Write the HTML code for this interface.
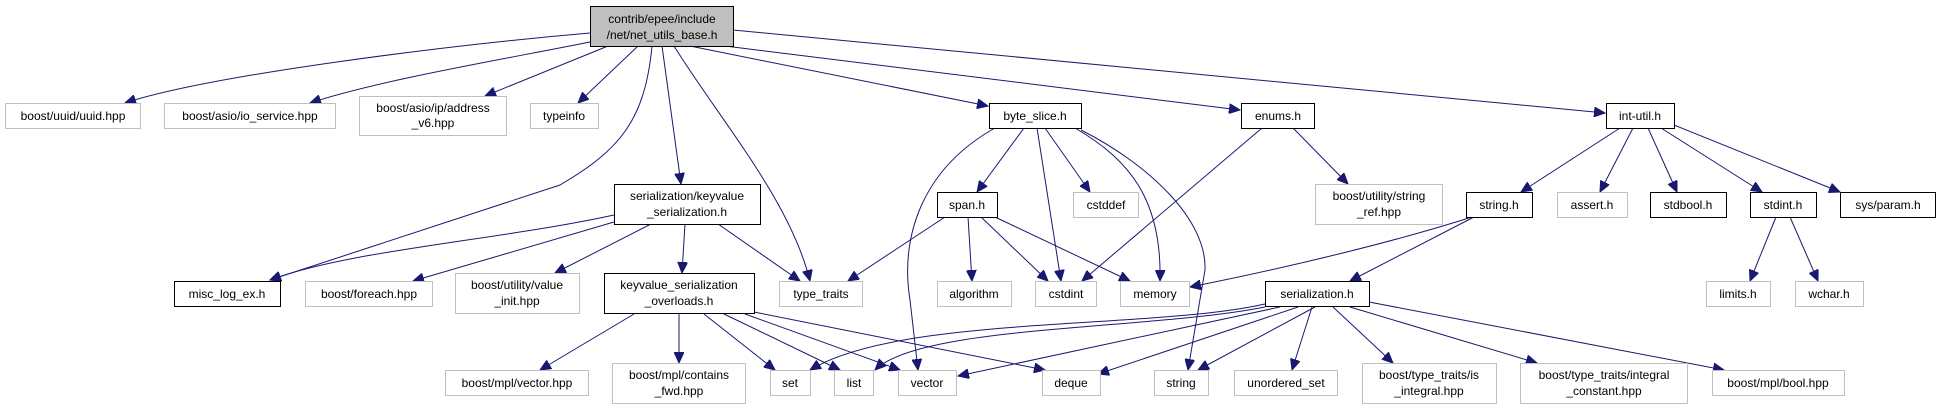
<!DOCTYPE html>
<html><head><meta charset="utf-8"><style>
html,body{margin:0;padding:0;background:#fff;}
svg{display:block;}
text{font-family:"Liberation Sans",sans-serif;font-size:12px;fill:#000;text-anchor:middle;}
.b{fill:#fff;stroke:#000;stroke-width:1;}
.g{fill:#fff;stroke:#bfbfbf;stroke-width:1;}
.e{fill:none;stroke:#191970;stroke-width:1;marker-end:url(#a);}
</style></head><body>
<svg width="1937" height="409" viewBox="0 0 1937 409">
<defs><marker id="a" markerUnits="userSpaceOnUse" markerWidth="12" markerHeight="10" refX="11" refY="5" orient="auto"><path d="M0,0 L11,5 L0,10 z" fill="#191970" stroke="#191970"/></marker></defs>
<!-- edges -->
<path class="e" d="M590,33 C450,45 210,75 125,103"/>
<path class="e" d="M590,42 C500,60 380,80 310,103"/>
<path class="e" d="M608,46 L485,96"/>
<path class="e" d="M638,46 L578,103"/>
<path class="e" d="M652,46 C645,120 620,150 560,185 L270,280"/>
<path class="e" d="M662,46 L681,184"/>
<path class="e" d="M674,46 C720,120 790,200 810,281"/>
<path class="e" d="M690,46 L988,106"/>
<path class="e" d="M725,46 L1240,110"/>
<path class="e" d="M733,30 L1605,113"/>
<path class="e" d="M1024,128 L977,192"/>
<path class="e" d="M995,128 C920,170 900,240 910,300 L918,370"/>
<path class="e" d="M1037,128 L1061,281"/>
<path class="e" d="M1045,128 L1090,192"/>
<path class="e" d="M1075,128 C1130,160 1162,200 1160,281"/>
<path class="e" d="M1081,130 C1150,165 1207,220 1205,270 L1188,370"/>
<path class="e" d="M1262,128 L1082,281"/>
<path class="e" d="M1293,128 L1348,184"/>
<path class="e" d="M1620,128 L1521,192"/>
<path class="e" d="M1633,128 L1600,192"/>
<path class="e" d="M1648,128 L1677,192"/>
<path class="e" d="M1661,128 L1762,192"/>
<path class="e" d="M1674,125 L1840,192"/>
<path class="e" d="M614,215 C500,240 350,250 270,280"/>
<path class="e" d="M614,222 L413,281"/>
<path class="e" d="M651,224 L555,273"/>
<path class="e" d="M685,224 L682,273"/>
<path class="e" d="M718,224 L800,281"/>
<path class="e" d="M945,217 L848,281"/>
<path class="e" d="M968,217 L972,281"/>
<path class="e" d="M981,217 L1048,281"/>
<path class="e" d="M995,217 L1130,281"/>
<path class="e" d="M1472,217 C1400,240 1300,265 1190,287"/>
<path class="e" d="M1474,217 L1350,281"/>
<path class="e" d="M1776,217 L1750,281"/>
<path class="e" d="M1790,217 L1818,281"/>
<path class="e" d="M634,314 L540,370"/>
<path class="e" d="M679,314 L679,363"/>
<path class="e" d="M704,314 L775,370"/>
<path class="e" d="M724,314 L840,370"/>
<path class="e" d="M745,314 L900,370"/>
<path class="e" d="M754,312 L1045,370"/>
<path class="e" d="M1265,304 C1150,330 900,315 810,370"/>
<path class="e" d="M1265,307 C1150,330 920,325 875,370"/>
<path class="e" d="M1280,307 L958,376"/>
<path class="e" d="M1298,307 L1098,374"/>
<path class="e" d="M1315,307 L1198,370"/>
<path class="e" d="M1312,307 L1292,370"/>
<path class="e" d="M1333,307 L1393,363"/>
<path class="e" d="M1350,307 L1537,363"/>
<path class="e" d="M1369,302 L1724,370"/>
<!-- nodes -->
<rect x="590.5" y="6.5" width="143" height="40" fill="#bfbfbf" stroke="#000"/>
<text x="662" y="23">contrib/epee/include</text><text x="662" y="39">/net/net_utils_base.h</text>

<rect class="g" x="5.5" y="103.5" width="135" height="25"/><text x="73" y="120">boost/uuid/uuid.hpp</text>
<rect class="g" x="164.5" y="103.5" width="171" height="25"/><text x="250" y="120">boost/asio/io_service.hpp</text>
<rect class="g" x="359.5" y="96.5" width="147" height="39"/><text x="433" y="112">boost/asio/ip/address</text><text x="433" y="127">_v6.hpp</text>
<rect class="g" x="530.5" y="103.5" width="68" height="25"/><text x="564" y="120">typeinfo</text>
<rect class="b" x="989.5" y="103.5" width="92" height="25"/><text x="1035" y="120">byte_slice.h</text>
<rect class="b" x="1241.5" y="103.5" width="73" height="25"/><text x="1278" y="120">enums.h</text>
<rect class="b" x="1606.5" y="103.5" width="68" height="25"/><text x="1640" y="120">int-util.h</text>

<rect class="b" x="614.5" y="184.5" width="146" height="40"/><text x="687" y="200">serialization/keyvalue</text><text x="687" y="216">_serialization.h</text>
<rect class="b" x="937.5" y="192.5" width="60" height="25"/><text x="967" y="209">span.h</text>
<rect class="g" x="1073.5" y="192.5" width="65" height="25"/><text x="1106" y="209">cstddef</text>
<rect class="g" x="1315.5" y="184.5" width="127" height="40"/><text x="1379" y="200">boost/utility/string</text><text x="1379" y="216">_ref.hpp</text>
<rect class="b" x="1466.5" y="192.5" width="66" height="25"/><text x="1499" y="209">string.h</text>
<rect class="g" x="1557.5" y="192.5" width="70" height="25"/><text x="1592" y="209">assert.h</text>
<rect class="b" x="1650.5" y="192.5" width="76" height="25"/><text x="1688" y="209">stdbool.h</text>
<rect class="b" x="1750.5" y="192.5" width="66" height="25"/><text x="1783" y="209">stdint.h</text>
<rect class="b" x="1840.5" y="192.5" width="95" height="25"/><text x="1888" y="209">sys/param.h</text>

<rect class="b" x="174.5" y="281.5" width="106" height="25"/><text x="227" y="298">misc_log_ex.h</text>
<rect class="g" x="305.5" y="281.5" width="127" height="25"/><text x="369" y="298">boost/foreach.hpp</text>
<rect class="g" x="455.5" y="273.5" width="124" height="40"/><text x="517" y="289">boost/utility/value</text><text x="517" y="305">_init.hpp</text>
<rect class="b" x="604.5" y="273.5" width="150" height="40"/><text x="679" y="289">keyvalue_serialization</text><text x="679" y="305">_overloads.h</text>
<rect class="g" x="779.5" y="281.5" width="83" height="25"/><text x="821" y="298">type_traits</text>
<rect class="g" x="937.5" y="281.5" width="74" height="25"/><text x="974" y="298">algorithm</text>
<rect class="g" x="1035.5" y="281.5" width="61" height="25"/><text x="1066" y="298">cstdint</text>
<rect class="g" x="1120.5" y="281.5" width="69" height="25"/><text x="1155" y="298">memory</text>
<rect class="b" x="1265.5" y="281.5" width="104" height="25"/><text x="1317" y="298">serialization.h</text>
<rect class="g" x="1706.5" y="281.5" width="64" height="25"/><text x="1738" y="298">limits.h</text>
<rect class="g" x="1795.5" y="281.5" width="68" height="25"/><text x="1829" y="298">wchar.h</text>

<rect class="g" x="445.5" y="370.5" width="143" height="25"/><text x="517" y="387">boost/mpl/vector.hpp</text>
<rect class="g" x="612.5" y="363.5" width="133" height="40"/><text x="679" y="379">boost/mpl/contains</text><text x="679" y="395">_fwd.hpp</text>
<rect class="g" x="770.5" y="370.5" width="40" height="25"/><text x="790" y="387">set</text>
<rect class="g" x="834.5" y="370.5" width="39" height="25"/><text x="854" y="387">list</text>
<rect class="g" x="898.5" y="370.5" width="58" height="25"/><text x="927" y="387">vector</text>
<rect class="g" x="1042.5" y="370.5" width="58" height="25"/><text x="1071" y="387">deque</text>
<rect class="g" x="1154.5" y="370.5" width="54" height="25"/><text x="1181" y="387">string</text>
<rect class="g" x="1234.5" y="370.5" width="103" height="25"/><text x="1286" y="387">unordered_set</text>
<rect class="g" x="1362.5" y="363.5" width="134" height="40"/><text x="1429" y="379">boost/type_traits/is</text><text x="1429" y="395">_integral.hpp</text>
<rect class="g" x="1520.5" y="363.5" width="167" height="40"/><text x="1604" y="379">boost/type_traits/integral</text><text x="1604" y="395">_constant.hpp</text>
<rect class="g" x="1712.5" y="370.5" width="132" height="25"/><text x="1778" y="387">boost/mpl/bool.hpp</text>
</svg>
</body></html>
